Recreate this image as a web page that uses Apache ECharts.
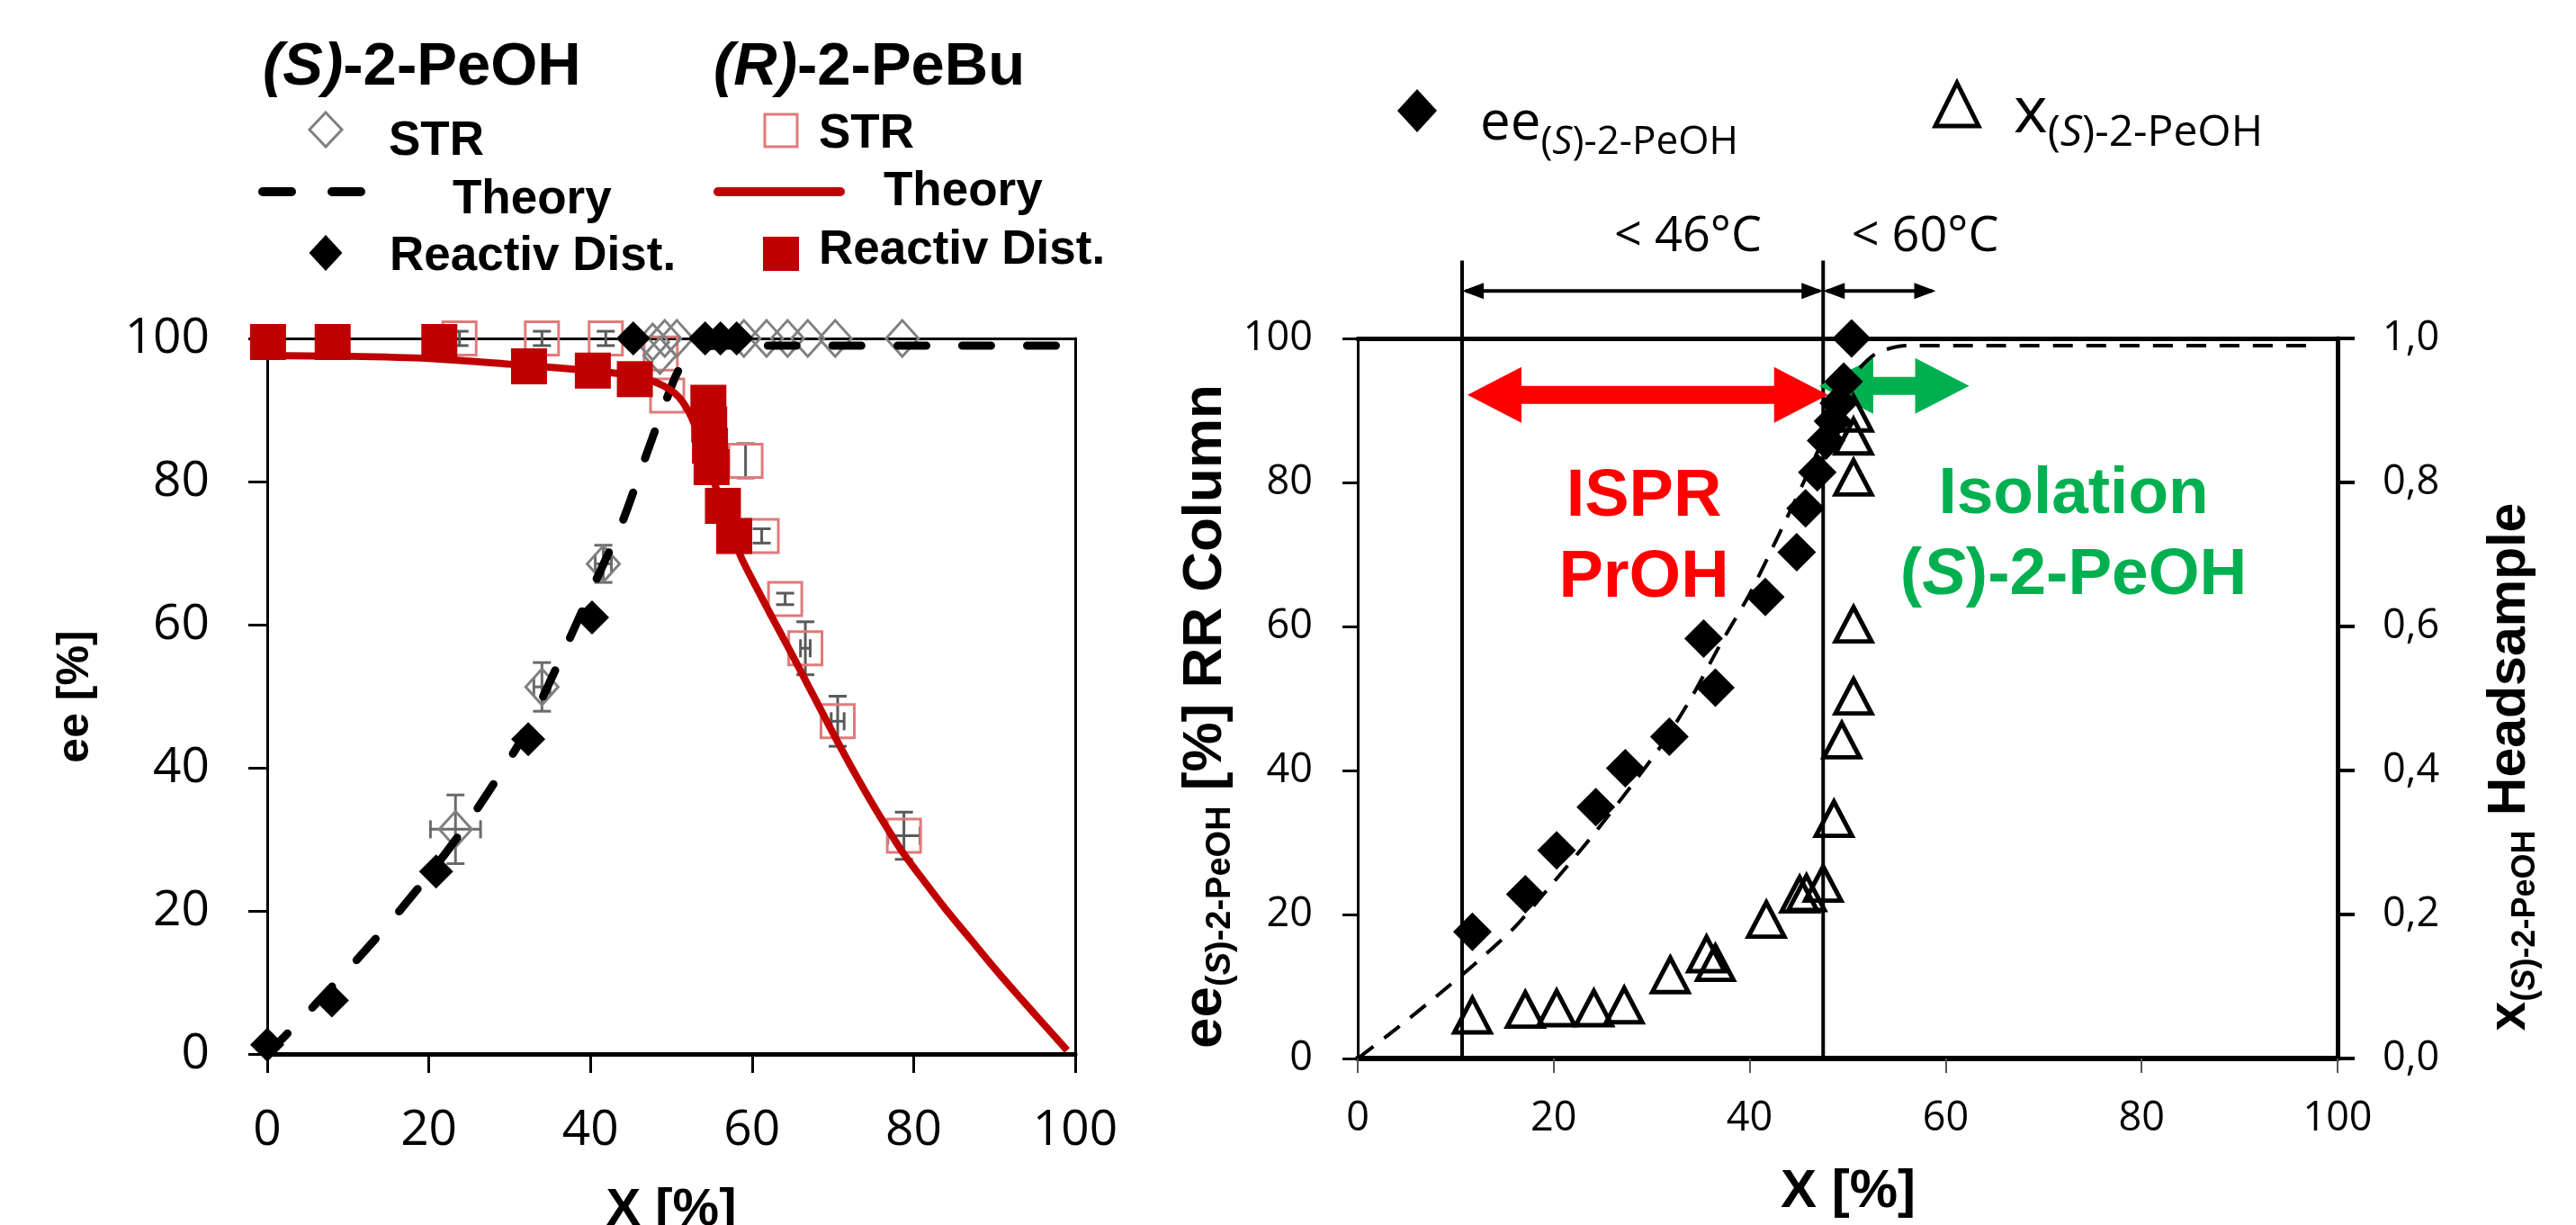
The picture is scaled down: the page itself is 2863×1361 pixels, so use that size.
<!DOCTYPE html>
<html>
<head>
<meta charset="utf-8">
<script src="https://cdn.jsdelivr.net/npm/echarts@6/dist/echarts.min.js"></script>
<style>
html,body{margin:0;padding:0;background:#ffffff;}
#chart{width:2863px;height:1361px;}
</style>
</head>
<body>
<div id="chart"></div>
<script>
// ================= LEFT PANEL DATA =================
// (S)-2-PeOH theory (dashed), [X %, ee %]
const sTheory = [[0,0],[4,4.6],[8,9.4],[12,14.3],[16,19.5],[20,25],[24,31],[28,37.7],[32,45],[36,54.5],[40,64.5],[44,74.5],[47,84],[49,90.2],[50.5,94.6],[52,97.6],[54,98.8],[57,99],[100,99]];
// (S)-2-PeOH reactive distillation (filled diamonds)
const sReactive = [[0,1.3],[8,7.5],[20.9,25.5],[32.3,44],[40.2,61],[45.3,100],[54.2,100],[56.1,100],[58.1,100]];
// (S)-2-PeOH STR (open grey diamonds) and their error bars
const sSTR = [[23.3,31.4],[34,51.3],[41.6,68.5],[47.7,99.5],[48.6,97.6],[49.2,100],[50.7,100],[59,100],[61.8,100],[64.4,100],[66.9,100],[70.3,100],[78.6,100]];
const sSTRxErr = [3.1,1,1,0,0,0,0,0,0,0,0,0,0];
const sSTRyErr = [4.8,3.4,2.6,0,0,0,0,0,0,0,0,0,0];
// (R)-2-PeBu theory (red line)
const rTheory = [[0,97.6],[10,97.5],[20,97.2],[30,96.4],[40,95.5],[44,95],[47,94.3],[49,93.4],[50.5,92.3],[51.5,91],[52.5,89],[53.5,86],[54.5,82.6],[55.5,79.3],[56.5,76],[57.5,72.8],[58.7,69.3],[60.5,65.3],[62.4,61.2],[64.4,57],[66.4,52.7],[68.2,48.8],[70,44.9],[72,40.7],[74,36.7],[76,32.9],[78.4,28.6],[81,24.6],[84,20.2],[87,16.1],[90,12],[93,8.1],[96,4.3],[99,0.5]];
// (R)-2-PeBu reactive distillation (filled red squares)
const rReactive = [[0.1,99.5],[8.1,99.5],[21.3,99.5],[32.4,96.1],[40.3,95.5],[45.5,94.3],[54.6,91],[54.7,88],[54.8,85],[55,82],[56.4,76.6],[57.8,72.4]];
// (R)-2-PeBu STR (open red squares) and their error bars
const rSTR = [[23.8,100],[34,100],[41.9,100],[48.7,97.9],[49.5,92],[59.2,82.9],[61.2,72.4],[64.1,63.6],[66.6,56.7],[70.6,46.5],[78.8,30.5]];
const rSTRxErr = [0,0,0,0,0,0,0,0,0.6,0.8,2];
const rSTRyErr = [1,1,1,0,0,2.4,1,0.8,3.7,3.5,3.3];

// ================= RIGHT PANEL DATA =================
const eeTheory = [[0,0],[4,4.2],[8,8.6],[12,13.2],[16,18.2],[20,24.5],[24,31],[28,38],[31,43.5],[34,50],[37,57.5],[40,64.5],[43,72.8],[45.5,80],[47.5,86],[49.5,92],[51,95.5],[53,98],[56,99],[98,99]];
const eeColumn = [[11.7,17.6],[17.1,22.8],[20.3,28.9],[24.3,34.9],[27.3,40.3],[31.8,44.7],[35.3,58.3],[36.5,51.5],[41.6,64.1],[44.8,70.3],[45.7,76.4],[46.9,81.4],[47.8,85.8],[48.5,88.5],[49.1,91],[49.6,94],[50.4,100]];
const xHead = [[11.7,0.06],[17.1,0.068],[20.3,0.07],[24.1,0.07],[27.2,0.074],[31.9,0.116],[35.6,0.145],[36.5,0.133],[41.7,0.193],[45.1,0.228],[45.8,0.23],[47.5,0.243],[48.6,0.333],[49.4,0.442],[50.6,0.503],[50.6,0.603],[50.6,0.807],[50.6,0.864],[50.6,0.896]];
const rightTickLabels = ['0,0','0,2','0,4','0,6','0,8','1,0'];

// ================= ANNOTATIONS (data units) =================
const zoneLimits = [10.65, 47.5];
const zoneLineTop = 110.8;
const tempArrows = [[10.65,47.5,106.6],[47.5,59,106.6]];
const tempLabelAt = [[33.7,114.1],[57.9,114.1]];
const tempLabels = ['< 46°C','< 60°C'];
const processArrows = [[11.2,48.0,92.15],[47.1,62.4,93.4]];
const processArrowColors = ['#FF0000','#00B050'];
const processLabelAt = [[29.2,72.3],[73.05,72.65]];
const processLabels = ['{r|ISPR}\n{r|PrOH}','{g|Isolation}\n{g|(}{gi|S}{g|)-2-PeOH}'];

// ================= HELPERS =================
const ARIAL = '"Liberation Sans", Arial, sans-serif';
const OPEN = '"Open Sans", "Liberation Sans", sans-serif';

function errorBarRender(color){
  return function(params, api){
    const x = api.value(0), y = api.value(1), ex = api.value(2), ey = api.value(3);
    const cap = 10, st = {stroke: color, lineWidth: 3};
    const ch = [];
    if (ey > 0) {
      const a = api.coord([x, y - ey]), b = api.coord([x, y + ey]);
      ch.push({type:'line', shape:{x1:a[0],y1:a[1],x2:b[0],y2:b[1]}, style:st});
      ch.push({type:'line', shape:{x1:a[0]-cap,y1:a[1],x2:a[0]+cap,y2:a[1]}, style:st});
      ch.push({type:'line', shape:{x1:b[0]-cap,y1:b[1],x2:b[0]+cap,y2:b[1]}, style:st});
    }
    if (ex > 0) {
      const a = api.coord([x - ex, y]), b = api.coord([x + ex, y]);
      ch.push({type:'line', shape:{x1:a[0],y1:a[1],x2:b[0],y2:b[1]}, style:st});
      ch.push({type:'line', shape:{x1:a[0],y1:a[1]-cap,x2:a[0],y2:a[1]+cap}, style:st});
      ch.push({type:'line', shape:{x1:b[0],y1:b[1]-cap,x2:b[0],y2:b[1]+cap}, style:st});
    }
    return {type:'group', children: ch};
  };
}

function zoneLineRender(params, api){
  const a = api.coord([api.value(0), 0]), b = api.coord([api.value(0), api.value(1)]);
  return {type:'line', shape:{x1:a[0],y1:a[1],x2:b[0],y2:b[1]}, style:{stroke:'#000', lineWidth:4}};
}

function tempArrowRender(params, api){
  const a = api.coord([api.value(0), api.value(2)]), b = api.coord([api.value(1), api.value(2)]);
  const L = 24, H = 9, y = a[1];
  return {type:'group', children:[
    {type:'line', shape:{x1:a[0]+4,y1:y,x2:b[0]-4,y2:y}, style:{stroke:'#000', lineWidth:4}},
    {type:'polygon', shape:{points:[[a[0],y],[a[0]+L,y-H],[a[0]+L,y+H]]}, style:{fill:'#000'}},
    {type:'polygon', shape:{points:[[b[0],y],[b[0]-L,y-H],[b[0]-L,y+H]]}, style:{fill:'#000'}}
  ]};
}

function processArrowRender(params, api){
  const a = api.coord([api.value(0), api.value(2)]), b = api.coord([api.value(1), api.value(2)]);
  const L = 60, HH = 31, SH = 10, y = a[1], xa = a[0], xb = b[0];
  const pts = [[xa,y],[xa+L,y-HH],[xa+L,y-SH],[xb-L,y-SH],[xb-L,y-HH],[xb,y],[xb-L,y+HH],[xb-L,y+SH],[xa+L,y+SH],[xa+L,y+HH]];
  return {type:'polygon', shape:{points:pts}, style:{fill: processArrowColors[params.dataIndex]}};
}

function tempLabelRender(params, api){
  const p = api.coord([api.value(0), api.value(1)]);
  return {type:'text', x:p[0], y:p[1], style:{legacy:false, text: tempLabels[params.dataIndex], fill:'#000',
    fontSize:54, fontFamily:OPEN, align:'center', verticalAlign:'middle'}};
}

const richProcess = {
  r:{fill:'#FF0000', fontSize:74, fontWeight:'bold', fontFamily:ARIAL, lineHeight:90},
  g:{fill:'#00B050', fontSize:73, fontWeight:'bold', fontFamily:ARIAL, lineHeight:90},
  gi:{fill:'#00B050', fontSize:73, fontWeight:'bold', fontStyle:'italic', fontFamily:ARIAL, lineHeight:90}
};
function processLabelRender(params, api){
  const p = api.coord([api.value(0), api.value(1)]);
  return {type:'text', x:p[0], y:p[1], style:{legacy:false, text: processLabels[params.dataIndex], rich: richProcess,
    align:'center', verticalAlign:'middle'}};
}

// ---------- legend / title graphics (page layout) ----------
function T(x, y, text, rich){
  return {type:'text', x:x, y:y, silent:true,
    style:{legacy:false, text:text, rich:rich, fill:'#000', align:'left', verticalAlign:'middle'}};
}
function diamondPts(cx, cy, w, h){ return [[cx,cy-h/2],[cx+w/2,cy],[cx,cy+h/2],[cx-w/2,cy]]; }

const hdrRich = {
  i:{fontSize:67, fontWeight:'bold', fontStyle:'italic', fontFamily:ARIAL, fill:'#000'},
  b:{fontSize:67, fontWeight:'bold', fontFamily:ARIAL, fill:'#000'}
};
const legRich = { b:{fontSize:53, fontWeight:'bold', fontFamily:ARIAL, fill:'#000'} };

const graphics = [
  T(292, 76, '{i|(S)}{b|-2-PeOH}', hdrRich),
  T(793, 76, '{i|(R)}{b|-2-PeBu}', hdrRich),
  {type:'polygon', shape:{points:diamondPts(362,144,36,38)}, style:{fill:'none', stroke:'#808080', lineWidth:3}},
  T(432, 157, '{b|STR}', legRich),
  {type:'line', shape:{x1:292,y1:213,x2:402,y2:213}, style:{stroke:'#000', lineWidth:10, lineCap:'round', lineDash:[32,45]}},
  T(503, 222, '{b|Theory}', legRich),
  {type:'polygon', shape:{points:diamondPts(362,281,37,40)}, style:{fill:'#000'}},
  T(433, 285, '{b|Reactiv Dist.}', legRich),
  {type:'rect', shape:{x:850,y:127,width:36,height:36}, style:{fill:'none', stroke:'#E07A7A', lineWidth:3}},
  T(910, 149, '{b|STR}', legRich),
  {type:'line', shape:{x1:798,y1:213,x2:934,y2:213}, style:{stroke:'#C00000', lineWidth:10, lineCap:'round'}},
  T(982, 213, '{b|Theory}', legRich),
  {type:'rect', shape:{x:848,y:263,width:40,height:38}, style:{fill:'#C00000'}},
  T(910, 278, '{b|Reactiv Dist.}', legRich),
  // right legend
  {type:'polygon', shape:{points:diamondPts(1575,123,44,48)}, style:{fill:'#000'}},
  T(1645, 138, '{m|ee}{s|(}{si|S}{s|)-2-PeOH}', {
    m:{fontSize:60, fontFamily:OPEN, fill:'#000'},
    s:{fontSize:44, fontFamily:OPEN, fill:'#000', padding:[40,0,0,0]},
    si:{fontSize:44, fontFamily:OPEN, fontStyle:'italic', fill:'#000', padding:[40,0,0,0]}
  }),
  {type:'polygon', shape:{points:[[2175,92],[2199,140],[2151,140]]}, style:{fill:'none', stroke:'#000', lineWidth:5}},
  T(2238, 126, '{m|x}{s|(}{si|S}{s|)-2-PeOH}', {
    m:{fontSize:72, fontFamily:OPEN, fill:'#000'},
    s:{fontSize:48, fontFamily:OPEN, fill:'#000', padding:[44,0,0,0]},
    si:{fontSize:48, fontFamily:OPEN, fontStyle:'italic', fill:'#000', padding:[44,0,0,0]}
  }),
  // axis titles
  {type:'text', x:84, y:774, rotation:Math.PI/2, silent:true, style:{legacy:false, text:'ee [%]', fill:'#000',
    fontSize:50, fontWeight:'bold', fontFamily:ARIAL, align:'center', verticalAlign:'middle'}},
  {type:'text', x:746, y:1316, silent:true, style:{legacy:false, text:'X [%]', fill:'#000', fontSize:58, fontWeight:'bold', fontFamily:ARIAL, align:'center', verticalAlign:'top'}},
  {type:'text', x:2054, y:1294, silent:true, style:{legacy:false, text:'X [%]', fill:'#000', fontSize:60, fontWeight:'bold', fontFamily:ARIAL, align:'center', verticalAlign:'top'}},
  {type:'text', x:1340, y:796, rotation:Math.PI/2, silent:true, style:{legacy:false,
    text:'{b|ee}{s|(}{si|S}{s|)-2-PeOH}{b| [%] RR Column}', align:'center', verticalAlign:'middle', fill:'#000',
    rich:{b:{fontSize:62, fontWeight:'bold', fontFamily:ARIAL, fill:'#000'},
          s:{fontSize:38, fontWeight:'bold', fontFamily:ARIAL, fill:'#000', padding:[34,0,0,0]},
          si:{fontSize:38, fontWeight:'bold', fontStyle:'italic', fontFamily:ARIAL, fill:'#000', padding:[34,0,0,0]}}}},
  {type:'text', x:2790, y:852, rotation:Math.PI/2, silent:true, style:{legacy:false,
    text:'{b|x}{s|(}{si|S}{s|)-2-PeOH}{b| Headsample}', align:'center', verticalAlign:'middle', fill:'#000',
    rich:{b:{fontSize:59, fontWeight:'bold', fontFamily:ARIAL, fill:'#000'},
          s:{fontSize:36, fontWeight:'bold', fontFamily:ARIAL, fill:'#000', padding:[34,0,0,0]},
          si:{fontSize:36, fontWeight:'bold', fontStyle:'italic', fontFamily:ARIAL, fill:'#000', padding:[34,0,0,0]}}}}
];

// ---------- axes ----------
function baseAxis(extra){
  return Object.assign({type:'value', splitLine:{show:false}}, extra);
}
const blackLine = w => ({show:true, onZero:false, lineStyle:{color:'#000', width:w}});
const noTick = {show:false}, noLabel = {show:false};

const option = {
  animation:false,
  backgroundColor:'#ffffff',
  textStyle:{fontFamily:OPEN},
  grid:[
    {left:297, top:376, width:898, height:795},
    {left:1509, top:376, width:1089, height:800}
  ],
  xAxis:[
    baseAxis({gridIndex:0, min:0, max:100, interval:20, position:'bottom', axisLine:blackLine(5),
      axisTick:{show:true, inside:false, length:21, lineStyle:{color:'#000', width:3}},
      axisLabel:{show:true, fontSize:55, fontFamily:OPEN, color:'#000', margin:58}}),
    baseAxis({gridIndex:0, min:0, max:100, position:'top', axisLine:blackLine(3), axisTick:noTick, axisLabel:noLabel}),
    baseAxis({gridIndex:1, min:0, max:100, interval:20, position:'bottom', axisLine:blackLine(6),
      axisTick:{show:true, inside:false, length:16, lineStyle:{color:'#555', width:2}},
      axisLabel:{show:true, fontSize:45, fontFamily:OPEN, color:'#000', margin:45}}),
    baseAxis({gridIndex:1, min:0, max:100, position:'top', axisLine:blackLine(5), axisTick:noTick, axisLabel:noLabel})
  ],
  yAxis:[
    baseAxis({gridIndex:0, min:0, max:100, interval:20, position:'left', axisLine:blackLine(3),
      axisTick:{show:true, inside:false, length:21, lineStyle:{color:'#000', width:3}},
      axisLabel:{show:true, fontSize:55, fontFamily:OPEN, color:'#000', margin:64}}),
    baseAxis({gridIndex:0, min:0, max:100, position:'right', axisLine:blackLine(3), axisTick:noTick, axisLabel:noLabel}),
    baseAxis({gridIndex:1, min:0, max:100, interval:20, position:'left', axisLine:blackLine(3),
      axisTick:{show:true, inside:false, length:17, lineStyle:{color:'#000', width:3}},
      axisLabel:{show:true, fontSize:45, fontFamily:OPEN, color:'#000', margin:50}}),
    baseAxis({gridIndex:1, min:0, max:1, interval:0.2, position:'right', axisLine:blackLine(5),
      axisTick:{show:true, inside:false, length:19, lineStyle:{color:'#000', width:4}},
      axisLabel:{show:true, fontSize:45, fontFamily:OPEN, color:'#000', margin:50,
        formatter:function(v){ return rightTickLabels[Math.round(v*5)]; }}})
  ],
  series:[
    // ----- left panel -----
    {type:'custom', name:'err R STR', xAxisIndex:0, yAxisIndex:0, clip:false, silent:true,
      renderItem:errorBarRender('#5a5a5a'), data:rSTR.map((p,i)=>[p[0],p[1],rSTRxErr[i],rSTRyErr[i]])},
    {type:'custom', name:'err S STR', xAxisIndex:0, yAxisIndex:0, clip:false, silent:true,
      renderItem:errorBarRender('#6a6a6a'), data:sSTR.map((p,i)=>[p[0],p[1],sSTRxErr[i],sSTRyErr[i]])},
    {type:'scatter', name:'(R)-2-PeBu STR', xAxisIndex:0, yAxisIndex:0, symbol:'rect', symbolSize:37, silent:true,
      itemStyle:{color:'rgba(255,255,255,0)', borderColor:'#E07A7A', borderWidth:3, opacity:1}, data:rSTR},
    {type:'scatter', name:'(S)-2-PeOH STR', xAxisIndex:0, yAxisIndex:0, symbol:'diamond', symbolSize:[36,40], silent:true,
      itemStyle:{color:'rgba(255,255,255,0)', borderColor:'#808080', borderWidth:3, opacity:1}, data:sSTR},
    {type:'line', name:'(S)-2-PeOH Theory', xAxisIndex:0, yAxisIndex:0, data:sTheory, symbol:'none', silent:true,
      smooth:0.25, lineStyle:{color:'#000', width:9, type:[32,40], cap:'round'}},
    {type:'line', name:'(R)-2-PeBu Theory', xAxisIndex:0, yAxisIndex:0, data:rTheory, symbol:'none', silent:true,
      smooth:0.25, lineStyle:{color:'#C00000', width:8}},
    {type:'scatter', name:'(R)-2-PeBu Reactiv Dist.', xAxisIndex:0, yAxisIndex:0, symbol:'rect', symbolSize:40, silent:true,
      itemStyle:{color:'#C00000', opacity:1}, data:rReactive},
    {type:'scatter', name:'(S)-2-PeOH Reactiv Dist.', xAxisIndex:0, yAxisIndex:0, symbol:'diamond', symbolSize:38, silent:true,
      itemStyle:{color:'#000', opacity:1}, data:sReactive},
    // ----- right panel -----
    {type:'line', name:'ee theory', xAxisIndex:2, yAxisIndex:2, data:eeTheory, symbol:'none', silent:true,
      smooth:0.25, lineStyle:{color:'#000', width:4, type:[22,15]}},
    {type:'scatter', name:'x (S)-2-PeOH', xAxisIndex:2, yAxisIndex:3, symbol:'triangle', symbolSize:[40,38], silent:true,
      itemStyle:{color:'rgba(255,255,255,0)', borderColor:'#000', borderWidth:5, opacity:1}, data:xHead},
    {type:'scatter', name:'ee (S)-2-PeOH', xAxisIndex:2, yAxisIndex:2, symbol:'diamond', symbolSize:43, silent:true,
      itemStyle:{color:'#000', opacity:1}, data:eeColumn},
    {type:'custom', name:'zones', xAxisIndex:2, yAxisIndex:2, clip:false, silent:true,
      renderItem:zoneLineRender, data:zoneLimits.map(x=>[x, zoneLineTop])},
    {type:'custom', name:'temperature arrows', xAxisIndex:2, yAxisIndex:2, clip:false, silent:true,
      renderItem:tempArrowRender, data:tempArrows},
    {type:'custom', name:'temperature labels', xAxisIndex:2, yAxisIndex:2, clip:false, silent:true,
      renderItem:tempLabelRender, data:tempLabelAt},
    {type:'custom', name:'process arrows', xAxisIndex:2, yAxisIndex:2, clip:false, silent:true,
      renderItem:processArrowRender, data:processArrows},
    {type:'custom', name:'process labels', xAxisIndex:2, yAxisIndex:2, clip:false, silent:true,
      renderItem:processLabelRender, data:processLabelAt}
  ],
  graphic:graphics
};

const chart = echarts.init(document.getElementById('chart'), null, {renderer:'canvas'});
chart.setOption(option);
</script>
</body>
</html>
